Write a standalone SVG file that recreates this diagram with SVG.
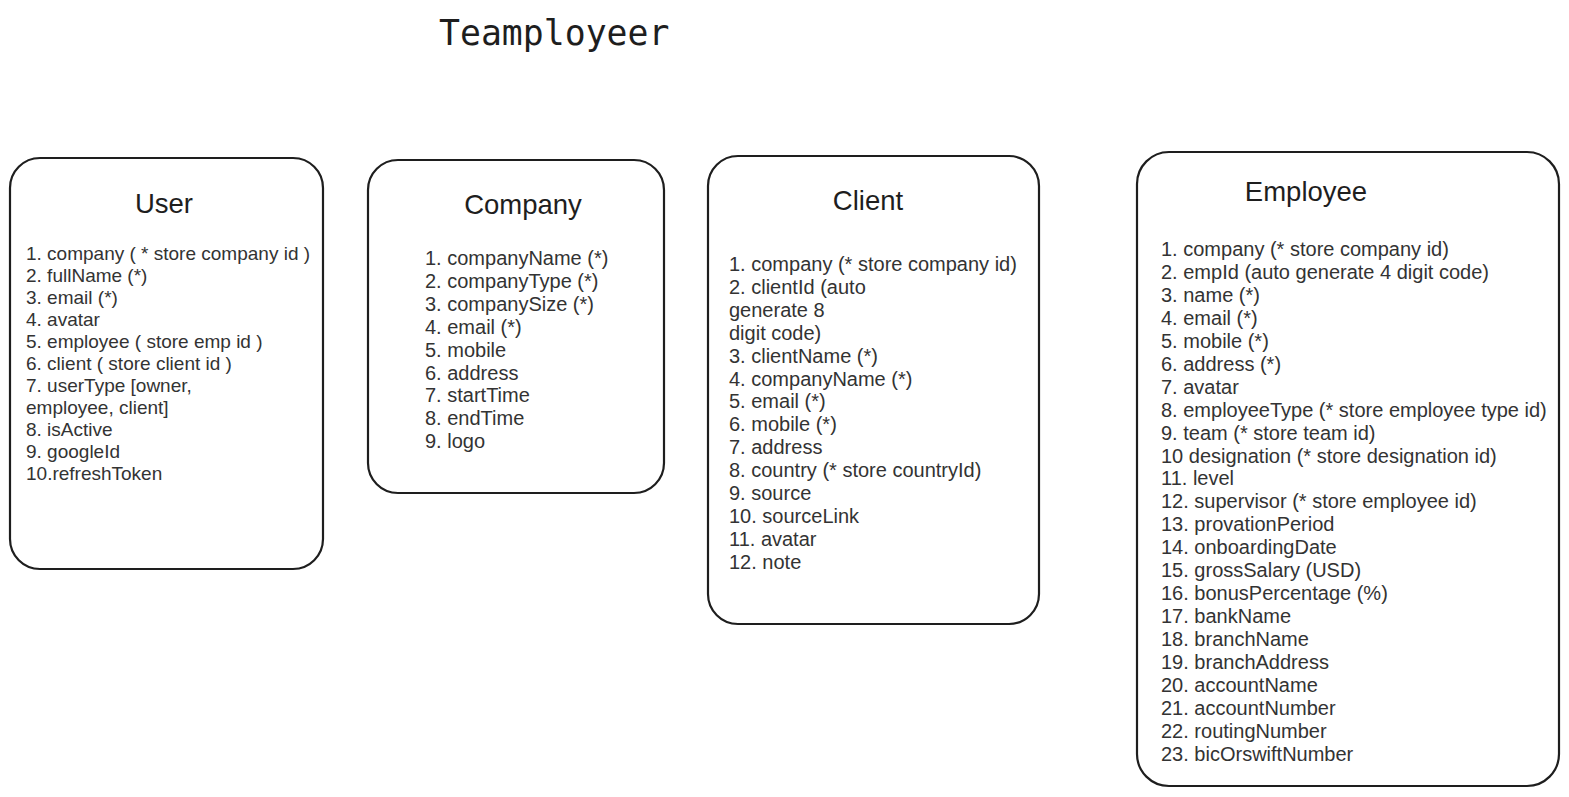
<svg xmlns="http://www.w3.org/2000/svg" width="1569" height="797" viewBox="0 0 1569 797">
<style>
.box{fill:#fff;stroke:#1e1e1e;stroke-width:2.2}
.ttl{font-family:"Liberation Sans",Arial,sans-serif;font-size:27.5px;fill:#1e1e1e;text-anchor:middle}
.body{font-family:"Liberation Sans",Arial,sans-serif;font-size:20px;fill:#333}
.ub{font-size:19px}
.head{font-family:"DejaVu Sans Mono","Liberation Mono",monospace;font-size:34.8px;fill:#1e1e1e}
</style>
<rect width="1569" height="797" fill="#fff"/>
<text class="head" x="439" y="45">Teamployeer</text>
<g id="user">
<rect class="box" x="10" y="158" width="313" height="411" rx="30"/>
<text class="ttl" x="164" y="213">User</text>
<text class="body ub" x="26">
<tspan x="26" y="260">1. company ( * store company id )</tspan>
<tspan x="26" y="282">2. fullName (*)</tspan>
<tspan x="26" y="304">3. email (*)</tspan>
<tspan x="26" y="326">4. avatar</tspan>
<tspan x="26" y="348">5. employee ( store emp id )</tspan>
<tspan x="26" y="370">6. client ( store client id )</tspan>
<tspan x="26" y="392">7. userType [owner,</tspan>
<tspan x="26" y="414">employee, client]</tspan>
<tspan x="26" y="436">8. isActive</tspan>
<tspan x="26" y="458">9. googleId</tspan>
<tspan x="26" y="480">10.refreshToken</tspan>
</text>
</g>
<g id="company">
<rect class="box" x="368" y="160" width="296" height="333" rx="30"/>
<text class="ttl" x="523" y="214">Company</text>
<text class="body">
<tspan x="425" y="265">1. companyName (*)</tspan>
<tspan x="425" y="288">2. companyType (*)</tspan>
<tspan x="425" y="311">3. companySize (*)</tspan>
<tspan x="425" y="334">4. email (*)</tspan>
<tspan x="425" y="357">5. mobile</tspan>
<tspan x="425" y="380">6. address</tspan>
<tspan x="425" y="402">7. startTime</tspan>
<tspan x="425" y="425">8. endTime</tspan>
<tspan x="425" y="448">9. logo</tspan>
</text>
</g>
<g id="client">
<rect class="box" x="708" y="156" width="331" height="468" rx="30"/>
<text class="ttl" x="868" y="210">Client</text>
<text class="body">
<tspan x="729" y="271">1. company (* store company id)</tspan>
<tspan x="729" y="294">2. clientId (auto</tspan>
<tspan x="729" y="317">generate 8</tspan>
<tspan x="729" y="340">digit code)</tspan>
<tspan x="729" y="363">3. clientName (*)</tspan>
<tspan x="729" y="386">4. companyName (*)</tspan>
<tspan x="729" y="408">5. email (*)</tspan>
<tspan x="729" y="431">6. mobile (*)</tspan>
<tspan x="729" y="454">7. address</tspan>
<tspan x="729" y="477">8. country (* store countryId)</tspan>
<tspan x="729" y="500">9. source</tspan>
<tspan x="729" y="523">10. sourceLink</tspan>
<tspan x="729" y="546">11. avatar</tspan>
<tspan x="729" y="569">12. note</tspan>
</text>
</g>
<g id="employee">
<rect class="box" x="1137" y="152" width="422" height="634" rx="32"/>
<text class="ttl" x="1306" y="201">Employee</text>
<text class="body">
<tspan x="1161" y="256">1. company (* store company id)</tspan>
<tspan x="1161" y="279">2. empId (auto generate 4 digit code)</tspan>
<tspan x="1161" y="302">3. name (*)</tspan>
<tspan x="1161" y="325">4. email (*)</tspan>
<tspan x="1161" y="348">5. mobile (*)</tspan>
<tspan x="1161" y="371">6. address (*)</tspan>
<tspan x="1161" y="394">7. avatar</tspan>
<tspan x="1161" y="417">8. employeeType (* store employee type id)</tspan>
<tspan x="1161" y="440">9. team (* store team id)</tspan>
<tspan x="1161" y="463">10 designation (* store designation id)</tspan>
<tspan x="1161" y="485">11. level</tspan>
<tspan x="1161" y="508">12. supervisor (* store employee id)</tspan>
<tspan x="1161" y="531">13. provationPeriod</tspan>
<tspan x="1161" y="554">14. onboardingDate</tspan>
<tspan x="1161" y="577">15. grossSalary (USD)</tspan>
<tspan x="1161" y="600">16. bonusPercentage (%)</tspan>
<tspan x="1161" y="623">17. bankName</tspan>
<tspan x="1161" y="646">18. branchName</tspan>
<tspan x="1161" y="669">19. branchAddress</tspan>
<tspan x="1161" y="692">20. accountName</tspan>
<tspan x="1161" y="715">21. accountNumber</tspan>
<tspan x="1161" y="738">22. routingNumber</tspan>
<tspan x="1161" y="761">23. bicOrswiftNumber</tspan>
</text>
</g>
<g id="connectors"></g>
</svg>
